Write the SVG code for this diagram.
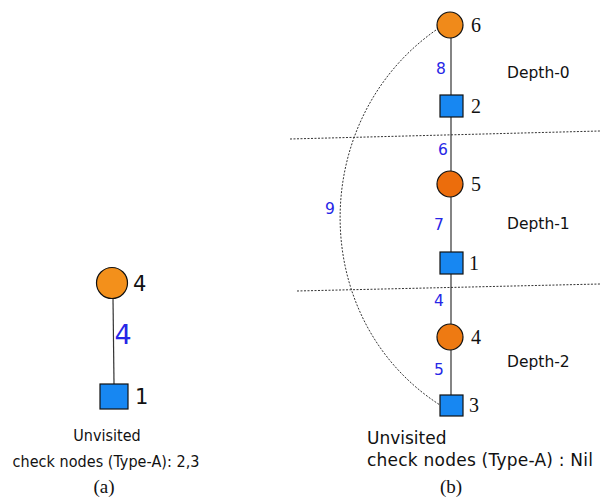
<svg xmlns="http://www.w3.org/2000/svg" width="600" height="500" viewBox="0 0 600 500">
<style>
.var{stroke:#111;stroke-width:1.2}
.chk{fill:#1787f2;stroke:#111;stroke-width:1.2}
.edge{stroke:#333;stroke-width:1.2;fill:none}
.dot{stroke:#333;stroke-width:1;stroke-dasharray:2,1.5;fill:none}
.nl{font-family:"Liberation Serif",serif;font-size:20px;fill:#111}
.el{font-family:"DejaVu Sans",sans-serif;font-size:15.5px;fill:#2626e6}
.big{font-size:27px}
.tx{font-family:"DejaVu Sans",sans-serif;fill:#111}
.dp{font-size:15.5px}
.cb{font-size:17px}
.cond{font-family:"DejaVu Sans Condensed","DejaVu Sans",sans-serif;font-size:16px;fill:#111}
.cap{font-family:"Liberation Serif",serif;font-size:19px;fill:#111}
</style>
<rect width="600" height="500" fill="#fff"/>
<g id="connectors">
<line class="edge" x1="113" y1="298" x2="114" y2="384"/>
<line class="edge" x1="451" y1="38" x2="451" y2="95"/>
<line class="edge" x1="451" y1="117" x2="451" y2="171"/>
<line class="edge" x1="451" y1="197" x2="451" y2="252"/>
<line class="edge" x1="451" y1="274" x2="451" y2="324"/>
<line class="edge" x1="451" y1="350" x2="451" y2="395"/>
<path class="dot" d="M436 30 C307.5 120 307.5 320 440 405"/>
<line class="dot" x1="290" y1="139" x2="600" y2="131"/>
<line class="dot" x1="297" y1="291" x2="600" y2="284"/>
<text class="el big" x="123" y="344" text-anchor="middle">4</text>
<text class="el" x="441" y="74" text-anchor="middle">8</text>
<text class="el" x="443" y="155" text-anchor="middle">6</text>
<text class="el" x="439" y="230" text-anchor="middle">7</text>
<text class="el" x="330" y="214" text-anchor="middle">9</text>
<text class="el" x="439" y="306" text-anchor="middle">4</text>
<text class="el" x="439" y="375" text-anchor="middle">5</text>
</g>
<g id="a-v4">
<circle class="var" cx="112" cy="283" r="15.5" fill="#f3901b"/>
<text x="133" y="291" font-family="DejaVu Sans,sans-serif" font-size="21" fill="#111">4</text>
</g>
<g id="a-c1">
<rect class="chk" x="100" y="384" width="28" height="25"/>
<text x="135" y="404" font-family="DejaVu Sans,sans-serif" font-size="21" fill="#111">1</text>
</g>
<g id="a-caption">
<text class="cond" x="107" y="441" text-anchor="middle">Unvisited</text>
<text class="cond" x="106" y="467" text-anchor="middle" textLength="187">check nodes (Type-A): 2,3</text>
<text class="cap" x="104" y="493" text-anchor="middle">(a)</text>
</g>
<g id="b-v6">
<circle class="var" cx="450" cy="25" r="13" fill="#f08a1a"/>
<text class="nl" x="471" y="32">6</text>
</g>
<g id="b-c2">
<rect class="chk" x="440" y="95" width="23" height="22"/>
<text class="nl" x="471" y="113">2</text>
</g>
<g id="b-v5">
<circle class="var" cx="450" cy="184" r="13" fill="#ec6d0c"/>
<text class="nl" x="471" y="191">5</text>
</g>
<g id="b-c1">
<rect class="chk" x="440" y="252" width="23" height="22"/>
<text class="nl" x="469" y="270">1</text>
</g>
<g id="b-v4">
<circle class="var" cx="450" cy="337" r="13" fill="#ee7a12"/>
<text class="nl" x="471" y="344">4</text>
</g>
<g id="b-c3">
<rect class="chk" x="440" y="395" width="23" height="21"/>
<text class="nl" x="469" y="412">3</text>
</g>
<g id="depths">
<text class="tx dp" x="507" y="78">Depth-0</text>
<text class="tx dp" x="507" y="229">Depth-1</text>
<text class="tx dp" x="507" y="367">Depth-2</text>
</g>
<g id="b-caption">
<text class="tx cb" x="367" y="444">Unvisited</text>
<text class="tx cb" x="367" y="466" textLength="226">check nodes (Type-A) : Nil</text>
<text class="cap" x="451" y="493" text-anchor="middle">(b)</text>
</g>
</svg>
